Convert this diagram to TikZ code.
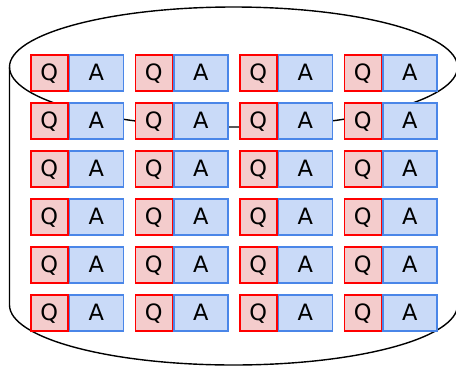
\documentclass[tikz,border=0pt]{standalone}
\usepackage{fontspec}
\setmainfont{DejaVu Sans}
\definecolor{qfill}{HTML}{F4CCCC}
\definecolor{qborder}{HTML}{FF0000}
\definecolor{afill}{HTML}{C9DAF8}
\definecolor{aborder}{HTML}{4A86E8}
\begin{document}
\begin{tikzpicture}[x=1pt,y=-1pt,
  cell/.style={line width=1.5pt, minimum height=36pt, inner sep=0pt,
    text height=15pt, text depth=0pt,
    anchor=north west, font=\fontsize{22.5}{26}\selectfont},
  qcell/.style={cell, draw=qborder, fill=qfill, minimum width=37pt},
  acell/.style={cell, draw=aborder, fill=afill, minimum width=54pt},
  shell/.style={draw=black, line width=1.4pt}]
\useasboundingbox (0,0) rectangle (456,365);
\clip (0,0) rectangle (456,365);
% storage cylinder: full top rim, sides and the front half of the base
\draw[shell] (233.5,67) ellipse [x radius=224pt, y radius=60pt];
\draw[shell] (9.5,67) -- (9.5,305)
  arc[start angle=180, end angle=360, x radius=224pt, y radius=60pt]
  -- (457.5,67);
% grid of question/answer pairs
\foreach \c in {0,...,3}{
  \foreach \r in {0,...,5}{
    \node[acell] (a-\r-\c) at ({30+104.5*\c+38.5},{54+48*\r}) {A};
    \node[qcell] (q-\r-\c) at ({30+104.5*\c},{54+48*\r}) {Q};
  }
}
\end{tikzpicture}
\end{document}
